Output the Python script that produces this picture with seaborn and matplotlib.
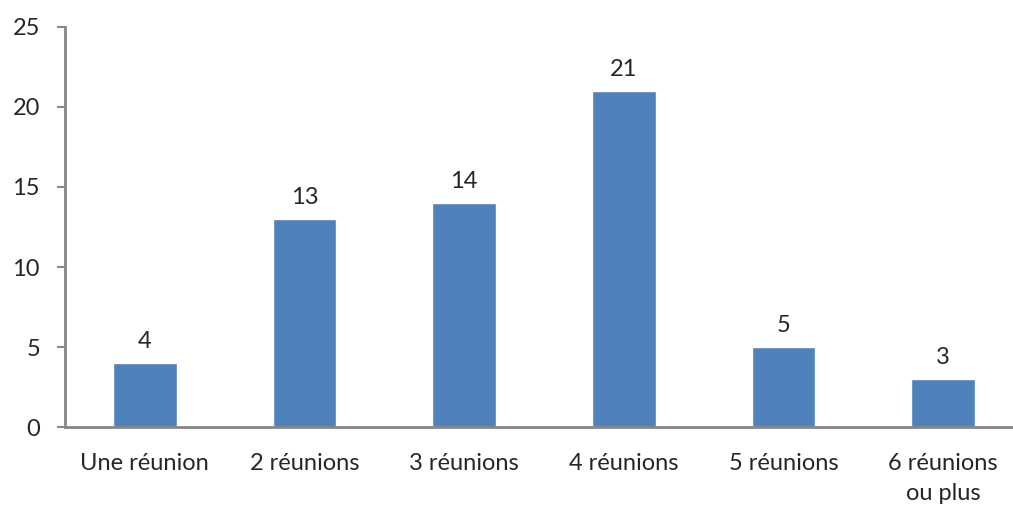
import matplotlib
matplotlib.use("Agg")
import matplotlib.pyplot as plt
import seaborn as sns
import pandas as pd

categories = ["Une réunion", "2 réunions", "3 réunions", "4 réunions", "5 réunions", "6 réunions\nou plus"]
values = [4, 13, 14, 21, 5, 3]

sns.set_style("white")
plt.rcParams['font.family'] = ['Lato', 'DejaVu Sans']

df = pd.DataFrame({"cat": categories, "n": values})

fig = plt.figure(figsize=(10.13, 5.05), dpi=100)
ax = fig.add_axes([65 / 1013, 78 / 505, 958 / 1013, 400 / 505])
sns.barplot(data=df, x="cat", y="n", color="#4F81BD", width=0.4, saturation=1, ax=ax)
ax.bar_label(ax.containers[0], fontsize=17, padding=8)

ax.set_xlim(-0.5, 5.5)
ax.set_ylim(0, 25)
ax.set_yticks([0, 5, 10, 15, 20, 25])
ax.set_xlabel("")
ax.set_ylabel("")
for s in ["top", "right"]:
    ax.spines[s].set_visible(False)
for s in ["left", "bottom"]:
    ax.spines[s].set_color("#868686")
    ax.spines[s].set_linewidth(2)
ax.tick_params(axis="y", length=6, width=1.5, color="#868686", pad=12, labelsize=17, left=True)
ax.tick_params(axis="x", length=0, pad=19, labelsize=17)
for lbl in ax.get_xticklabels():
    lbl.set_linespacing(1.5)

fig.savefig("out.png", dpi=100)
